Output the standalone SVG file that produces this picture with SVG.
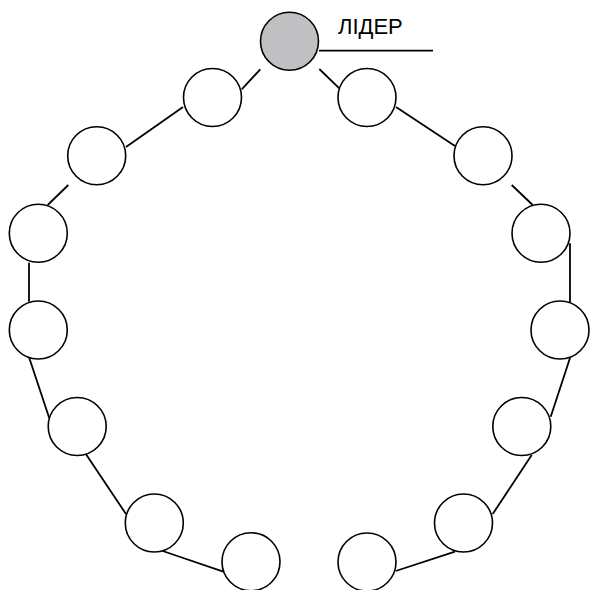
<svg xmlns="http://www.w3.org/2000/svg" width="590" height="590" viewBox="0 0 590 590">
<style>
.n{fill:#fff;stroke:#000;stroke-width:1.6}
.lead{fill:#c0c0c2;stroke:#000;stroke-width:1.6}
.c line{stroke:#000;stroke-width:1.8}
.t{font-family:"Liberation Sans",Arial,sans-serif;font-size:22px;fill:#000}
</style>
<rect width="590" height="590" fill="#fff"/>
<g id="connectors" class="c">
<line x1="319" y1="50.7" x2="433" y2="50.7"/>
<line x1="260.3" y1="69.3" x2="241.7" y2="89.3"/>
<line x1="319.3" y1="69" x2="339.3" y2="88.3"/>
<line x1="183" y1="107" x2="126" y2="147"/>
<line x1="68.3" y1="185" x2="47.7" y2="205"/>
<line x1="29" y1="262.7" x2="29" y2="301.7"/>
<line x1="29.3" y1="358" x2="49.3" y2="418.3"/>
<line x1="86" y1="454.3" x2="126" y2="514"/>
<line x1="162.7" y1="551" x2="223.3" y2="571.7"/>
<line x1="396" y1="107" x2="455" y2="146"/>
<line x1="511.7" y1="185" x2="532.7" y2="205"/>
<line x1="570" y1="243.3" x2="570" y2="302.7"/>
<line x1="570" y1="358" x2="550.7" y2="416.7"/>
<line x1="531.7" y1="455" x2="492.7" y2="514"/>
<line x1="455" y1="551.7" x2="395.7" y2="571"/>
</g>
<g id="leader"><circle class="lead" cx="289.5" cy="41.3" r="29"/><text class="t" x="338" y="34">ЛІДЕР</text></g>
<g id="n1"><circle class="n" cx="212.5" cy="97.5" r="29"/></g>
<g id="n2"><circle class="n" cx="96.7" cy="155.8" r="29"/></g>
<g id="n3"><circle class="n" cx="38.3" cy="233.3" r="29"/></g>
<g id="n4"><circle class="n" cx="38.3" cy="330" r="29"/></g>
<g id="n5"><circle class="n" cx="77.2" cy="426.5" r="29"/></g>
<g id="n6"><circle class="n" cx="154.3" cy="523" r="29"/></g>
<g id="n7"><circle class="n" cx="251" cy="561.7" r="29"/></g>
<g id="n8"><circle class="n" cx="367" cy="97.5" r="29"/></g>
<g id="n9"><circle class="n" cx="483" cy="155.8" r="29"/></g>
<g id="n10"><circle class="n" cx="541" cy="233.3" r="29"/></g>
<g id="n11"><circle class="n" cx="560" cy="330" r="29"/></g>
<g id="n12"><circle class="n" cx="521.8" cy="426.5" r="29"/></g>
<g id="n13"><circle class="n" cx="463.5" cy="523" r="29"/></g>
<g id="n14"><circle class="n" cx="367" cy="562" r="29"/></g>
</svg>
